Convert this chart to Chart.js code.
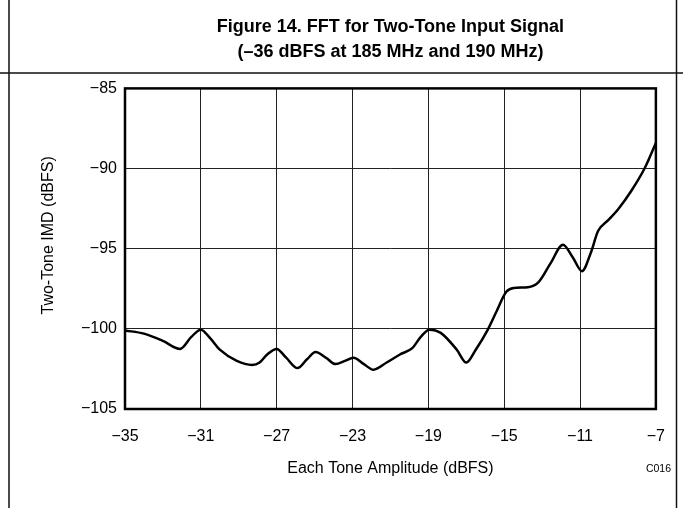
<!DOCTYPE html>
<html>
<head>
<meta charset="utf-8">
<script src="https://cdn.jsdelivr.net/npm/chart.js@4.4.1/dist/chart.umd.min.js"></script>
<style>
  html, body { margin: 0; padding: 0; background: #fff; }
  #wrap { width: 683px; height: 508px; position: relative; }
</style>
</head>
<body>
<div id="wrap"><canvas id="c" width="683" height="508"></canvas></div>
<script>
// Data
const toneAmplitude = [-35, -34, -33, -32.1, -31.5, -31, -30.5, -30, -29.1, -28.3, -27.9, -27.5, -27.0, -26.5, -25.9, -25.4, -24.95, -24.4, -23.9, -23.4, -22.95, -22.4, -21.9, -21.2, -20.5, -19.85, -19.4, -18.95, -18.35, -17.5, -17.0, -16.5, -15.87, -15.4, -14.9, -14.5, -13.75, -13.2, -12.55, -11.9, -11.38, -10.9, -10.43, -10.05, -9.5, -9.0, -8.3, -7.6, -7.0];
const twoToneIMD = [-100.1, -100.3, -100.75, -101.25, -100.5, -100.05, -100.6, -101.3, -102.0, -102.25, -102.1, -101.6, -101.25, -101.8, -102.45, -101.9, -101.45, -101.8, -102.2, -102.0, -101.8, -102.2, -102.55, -102.1, -101.6, -101.2, -100.5, -100.05, -100.25, -101.3, -102.1, -101.3, -100.06, -98.9, -97.7, -97.45, -97.4, -97.1, -95.9, -94.75, -95.55, -96.4, -95.25, -93.9, -93.2, -92.55, -91.4, -90.0, -88.4];
const xTicks = [-35, -31, -27, -23, -19, -15, -11, -7];
const yTicks = [-105, -100, -95, -90, -85];
const titleLines = ['Figure 14. FFT for Two-Tone Input Signal', '(\u201336 dBFS at 185 MHz and 190 MHz)'];
const xTitle = 'Each Tone Amplitude (dBFS)';
const yTitle = 'Two-Tone IMD (dBFS)';
const figureCode = 'C016';

const points = toneAmplitude.map((x, i) => ({ x: x, y: twoToneIMD[i] }));
const fmt = v => (v < 0 ? '\u2212' + Math.abs(v) : String(v));

const framePlugin = {
  id: 'framePlugin',
  afterDraw(chart) {
    const ctx = chart.ctx;
    const a = chart.chartArea;
    ctx.save();
    // plot border
    ctx.strokeStyle = '#000';
    ctx.lineWidth = 2.5;
    ctx.strokeRect(a.left, a.top, a.right - a.left, a.bottom - a.top);
    // outer document frame
    ctx.lineWidth = 1.5;
    ctx.strokeStyle = '#111';
    ctx.beginPath();
    ctx.moveTo(9, 0); ctx.lineTo(9, 508);
    ctx.moveTo(676.5, 0); ctx.lineTo(676.5, 508);
    ctx.moveTo(0, 73); ctx.lineTo(683, 73);
    ctx.stroke();
    // figure code
    ctx.fillStyle = '#000';
    ctx.font = '10.5px "Liberation Sans", Arial, sans-serif';
    ctx.textAlign = 'right';
    ctx.textBaseline = 'middle';
    ctx.fillText(figureCode, 671, 469);
    ctx.restore();
  }
};

new Chart(document.getElementById('c'), {
  type: 'line',
  data: {
    datasets: [{
      data: points,
      borderColor: '#000',
      borderWidth: 2.5,
      pointRadius: 0,
      fill: false,
      cubicInterpolationMode: 'monotone'
    }]
  },
  options: {
    responsive: false,
    animation: false,
    devicePixelRatio: 1,
    layout: { padding: { left: 0, right: 27, top: 0, bottom: 0 } },
    plugins: {
      legend: { display: false },
      tooltip: { enabled: false },
      title: {
        display: true,
        fullSize: false,
        text: titleLines,
        color: '#000',
        font: { family: '"Liberation Sans", Arial, sans-serif', size: 18, weight: 'bold', lineHeight: 1.4 },
        padding: { top: 14, bottom: 24 }
      }
    },
    scales: {
      x: {
        type: 'linear',
        min: -35, max: -7,
        afterBuildTicks: s => { s.ticks = xTicks.map(v => ({ value: v })); },
        afterFit: s => { s.height = 99; },
        grid: { color: '#222', lineWidth: 1, drawTicks: false },
        border: { display: false },
        ticks: { color: '#000', padding: 18, font: { family: '"Liberation Sans", Arial, sans-serif', size: 16 }, callback: v => fmt(v) },
        title: { display: true, text: xTitle, color: '#000', padding: { top: 0, bottom: 30 }, font: { family: '"Liberation Sans", Arial, sans-serif', size: 16 } }
      },
      y: {
        type: 'linear',
        min: -105, max: -85,
        afterBuildTicks: s => { s.ticks = yTicks.map(v => ({ value: v })); },
        afterFit: s => { s.width = 125; },
        grid: { color: '#222', lineWidth: 1, drawTicks: false },
        border: { display: false },
        ticks: { color: '#000', padding: 8, font: { family: '"Liberation Sans", Arial, sans-serif', size: 16 }, callback: v => fmt(v) },
        title: { display: true, text: '\u00a0\u00a0\u00a0\u00a0\u00a0\u00a0' + yTitle, color: '#000', padding: { top: 39, bottom: 0 }, font: { family: '"Liberation Sans", Arial, sans-serif', size: 16 } }
      }
    }
  },
  plugins: [framePlugin]
});
</script>
</body>
</html>
